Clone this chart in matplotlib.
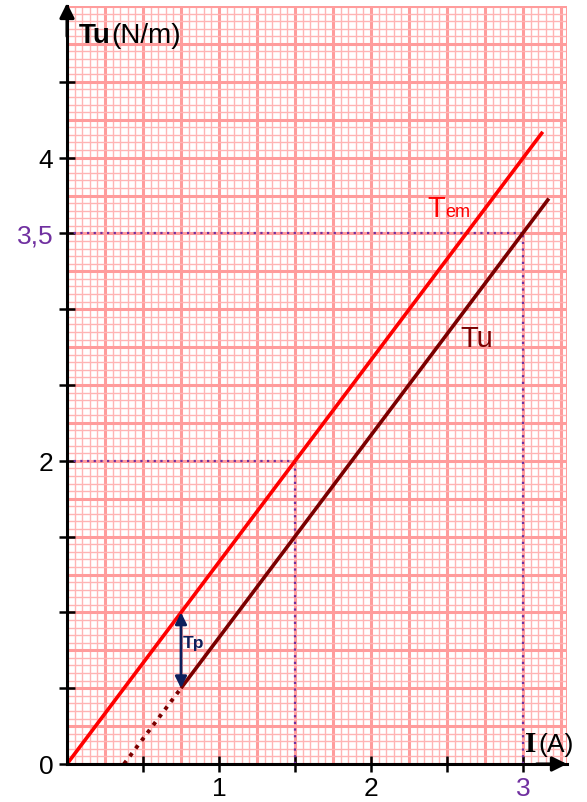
import numpy as np
import matplotlib
matplotlib.use("Agg")
import matplotlib.pyplot as plt

# data
I_tem = [0.0, 3.13]
T_em = [0.0, 4.17]
I_tu = [0.75, 3.17]
T_u = [0.5, 3.73]
I_tu_ext = [0.375, 0.75]
T_u_ext = [0.0, 0.5]
I_tp = 0.75
Tp_range = [0.5, 1.0]
ref_I = [1.5, 3.0]
ref_T = [2.0, 3.5]
yticks = [0, 0.5, 1, 1.5, 2, 2.5, 3, 3.5, 4, 4.5]
ytick_labels = ['0', '', '', '', '2', '', '', '3,5', '4', '']
xticks = [0.5, 1, 1.5, 2, 2.5, 3]
xtick_labels = ['', '1', '', '2', '', '3']

plt.rcParams['font.family'] = ['Liberation Sans', 'DejaVu Sans']

W, H = 587, 803
fig = plt.figure(figsize=(W/100, H/100), dpi=100)
x0, x1 = 67, 567
y0, y1 = 765, 7
ax = fig.add_axes([x0/W, 1 - y0/H, (x1-x0)/W, (y0-y1)/H])
XMAX = (x1-x0)/152.0
YMAX = (y0-y1)/151.6
ax.set_xlim(0, XMAX)
ax.set_ylim(0, YMAX)

# graph paper
minor_c = '#ffb4b4'
major_c = '#ff9c9c'
for v in np.arange(0, XMAX+1e-6, 0.05):
    major = abs(v/0.25 - round(v/0.25)) < 1e-6
    ax.axvline(v, color=major_c if major else minor_c, lw=2.2 if major else 1.0, zorder=0)
for v in np.arange(0, YMAX+1e-6, 0.05):
    major = abs(v/0.25 - round(v/0.25)) < 1e-6
    ax.axhline(v, color=major_c if major else minor_c, lw=2.2 if major else 1.0, zorder=0)
ax.axvline(XMAX, color=major_c, lw=2.2, zorder=0)
ax.axhline(YMAX, color=major_c, lw=2.2, zorder=0)

purple = '#7030a0'
for xi, ti in zip(ref_I, ref_T):
    ax.plot([0, xi], [ti, ti], ls=(0, (1, 2)), color=purple, lw=1.6, zorder=2)
    ax.plot([xi, xi], [0, ti], ls=(0, (1, 2)), color=purple, lw=1.6, zorder=2)

ax.plot(I_tem, T_em, color='#ff0000', lw=2.6, zorder=3, solid_capstyle='butt')
ax.plot(I_tu, T_u, color='#7b0000', lw=2.6, zorder=3, solid_capstyle='butt')
ax.plot(I_tu_ext, T_u_ext, color='#7b0000', lw=2.8, ls=(0, (1, 1.5)), zorder=3)

ax.annotate('', xy=(I_tp, Tp_range[1]), xytext=(I_tp, Tp_range[0]),
            arrowprops=dict(arrowstyle='<|-|>', color='#0d1f5c', lw=2.0,
                            mutation_scale=17, shrinkA=0, shrinkB=0), zorder=4)
ax.text(0.762, 0.772, 'Tp', color='#0d1f5c', fontsize=12.5, fontweight='bold',
        ha='left', va='baseline', zorder=5)

ax.text(2.37, 3.615, 'T', color='#ff0000', fontsize=21, ha='left', va='baseline')
ax.text(2.49, 3.615, 'em', color='#ff0000', fontsize=13, ha='left', va='baseline')
ax.text(2.585, 2.757, 'Tu', color='#7b0000', fontsize=21, ha='left', va='baseline')

# axes
for s in ['top', 'right']:
    ax.spines[s].set_visible(False)
for s in ['left', 'bottom']:
    ax.spines[s].set_linewidth(2.2)
    ax.spines[s].set_color('black')
    ax.spines[s].set_zorder(6)
ax.annotate('', xy=(0, YMAX + 0.02), xytext=(0, YMAX - 0.2),
            arrowprops=dict(arrowstyle='-|>', color='black', lw=2.2, mutation_scale=22,
                            shrinkA=0, shrinkB=0), annotation_clip=False, zorder=7)
ax.annotate('', xy=(XMAX, 0), xytext=(XMAX - 0.2, 0),
            arrowprops=dict(arrowstyle='-|>', color='black', lw=2.2, mutation_scale=22,
                            shrinkA=0, shrinkB=0), annotation_clip=False, zorder=7)

ax.set_yticks(yticks)
ax.set_yticklabels(ytick_labels)
ax.set_xticks(xticks)
ax.set_xticklabels(xtick_labels)
ax.tick_params(axis='y', direction='inout', length=11.5, width=1.8, labelsize=19, pad=4)
ax.tick_params(axis='x', direction='inout', length=11, width=1.8, labelsize=19, pad=3)
for lab, t in zip(ax.get_yticklabels(), ytick_labels):
    if t == '3,5':
        lab.set_color(purple)
for lab, t in zip(ax.get_xticklabels(), xtick_labels):
    if t == '3':
        lab.set_color(purple)

fig.text(79/W, 1 - 43/H, 'Tu', fontsize=20, fontweight='bold', ha='left', va='baseline')
fig.text(111/W, 1 - 43/H, '(N/m)', fontsize=20, ha='left', va='baseline')
fig.text(525/W, 1 - 752/H, 'I', fontsize=21, fontweight='bold', family='Liberation Serif',
         ha='left', va='baseline')
fig.text(538/W, 1 - 752/H, '(A)', fontsize=19, ha='left', va='baseline')

fig.savefig('out.png', dpi=100)
